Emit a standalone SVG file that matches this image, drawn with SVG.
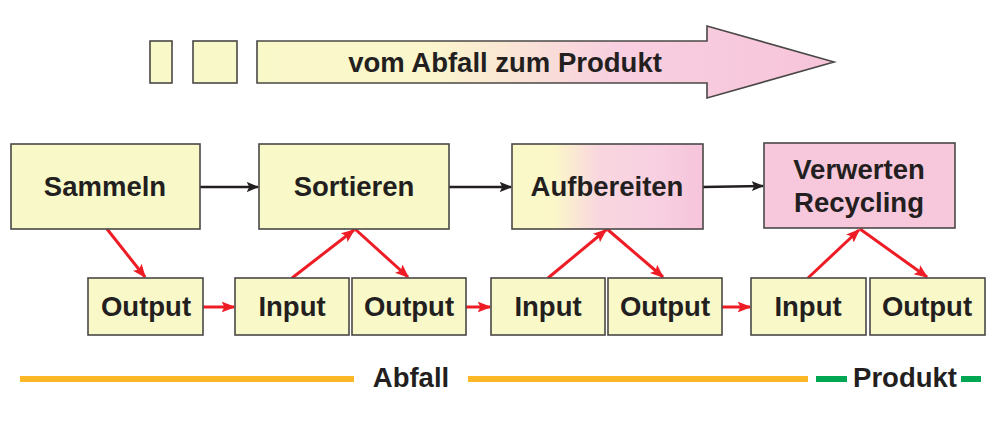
<svg xmlns="http://www.w3.org/2000/svg" width="1000" height="432" viewBox="0 0 1000 432">
<style>
.box{stroke:#4a4846;stroke-width:1.6}
.y{fill:#f9f8c9}
.p{fill:#f7c7db}
.t{font-family:"Liberation Sans",Arial,sans-serif;font-weight:bold;font-size:27.5px;fill:#231f20;text-anchor:middle}
.blk{stroke:#231f20;stroke-width:2.5;fill:none}
.red{stroke:#ee1c25;stroke-width:3;fill:none}
</style>
<defs>
<linearGradient id="gArrow" gradientUnits="userSpaceOnUse" x1="257" y1="0" x2="834" y2="0">
<stop offset="0" stop-color="#f9f8c9"/>
<stop offset="0.3" stop-color="#fbf6cc"/>
<stop offset="0.62" stop-color="#f8cfe0"/>
<stop offset="1" stop-color="#f7c4da"/>
</linearGradient>
<linearGradient id="gAuf" gradientUnits="userSpaceOnUse" x1="512" y1="0" x2="703" y2="0">
<stop offset="0" stop-color="#f9f8c9"/>
<stop offset="0.22" stop-color="#fbf7c9"/>
<stop offset="0.45" stop-color="#f9d7df"/>
<stop offset="0.75" stop-color="#f8d0e2"/>
<stop offset="1" stop-color="#f6c4da"/>
</linearGradient>
<marker id="ab" viewBox="0 0 10 10" refX="9" refY="5" markerWidth="5" markerHeight="5" orient="auto" markerUnits="strokeWidth">
<path d="M0,1 L10,5 L0,9 L2,5 z" fill="#231f20"/>
</marker>
<marker id="ar" viewBox="0 0 10 10" refX="9" refY="5" markerWidth="4.6" markerHeight="4.6" orient="auto" markerUnits="strokeWidth">
<path d="M0,1 L10,5 L0,9 L2,5 z" fill="#ee1c25"/>
</marker>
</defs>
<rect width="1000" height="432" fill="#ffffff"/>

<g id="header">
<rect class="box y" x="150" y="41" width="22" height="42"/>
<rect class="box y" x="193" y="41" width="44" height="42"/>
<path class="box" fill="url(#gArrow)" d="M257,41 H707 V26 L834,62 L707,98 V83 H257 Z"/>
<text class="t" x="505" y="72">vom Abfall zum Produkt</text>
</g>

<g id="connectors">
<line class="blk" x1="200" y1="187" x2="258" y2="187" marker-end="url(#ab)"/>
<line class="blk" x1="449" y1="187" x2="511" y2="187" marker-end="url(#ab)"/>
<line class="blk" x1="703" y1="187" x2="763" y2="186" marker-end="url(#ab)"/>
<line class="red" x1="107" y1="229" x2="145" y2="277" marker-end="url(#ar)"/>
<line class="red" x1="292" y1="278" x2="354" y2="230" marker-end="url(#ar)"/>
<line class="red" x1="355" y1="229" x2="408" y2="277" marker-end="url(#ar)"/>
<line class="red" x1="548" y1="278" x2="606" y2="230" marker-end="url(#ar)"/>
<line class="red" x1="607" y1="229" x2="663" y2="277" marker-end="url(#ar)"/>
<line class="red" x1="808" y1="278" x2="859" y2="230" marker-end="url(#ar)"/>
<line class="red" x1="860" y1="229" x2="927" y2="277" marker-end="url(#ar)"/>
<line class="red" x1="203" y1="307" x2="234" y2="307" marker-end="url(#ar)"/>
<line class="red" x1="466" y1="307" x2="490" y2="307" marker-end="url(#ar)"/>
<line class="red" x1="722" y1="307" x2="750" y2="307" marker-end="url(#ar)"/>
</g>

<g id="sammeln"><rect class="box y" x="11" y="144" width="189" height="85"/><text class="t" x="105" y="196">Sammeln</text></g>
<g id="sortieren"><rect class="box y" x="259" y="144" width="190" height="85"/><text class="t" x="354" y="196">Sortieren</text></g>
<g id="aufbereiten"><rect class="box" fill="url(#gAuf)" x="512" y="144" width="191" height="85"/><text class="t" x="607" y="196">Aufbereiten</text></g>
<g id="verwerten"><rect class="box p" x="764" y="143" width="191" height="85"/><text class="t" x="859" y="179">Verwerten</text><text class="t" x="859" y="212">Recycling</text></g>

<g id="output1"><rect class="box y" x="88" y="278" width="115" height="57"/><text class="t" x="146" y="316">Output</text></g>
<g id="input1"><rect class="box y" x="235" y="278" width="114" height="57"/><text class="t" x="292" y="316">Input</text></g>
<g id="output2"><rect class="box y" x="352" y="278" width="114" height="57"/><text class="t" x="409" y="316">Output</text></g>
<g id="input2"><rect class="box y" x="491" y="278" width="114" height="57"/><text class="t" x="548" y="316">Input</text></g>
<g id="output3"><rect class="box y" x="608" y="278" width="114" height="57"/><text class="t" x="665" y="316">Output</text></g>
<g id="input3"><rect class="box y" x="751" y="278" width="115" height="57"/><text class="t" x="808" y="316">Input</text></g>
<g id="output4"><rect class="box y" x="870" y="278" width="115" height="57"/><text class="t" x="927" y="316">Output</text></g>

<g id="legend">
<rect x="20" y="376" width="334" height="6" fill="#fbb726"/>
<text class="t" x="411" y="387">Abfall</text>
<rect x="468" y="376" width="340" height="6" fill="#fbb726"/>
<rect x="816" y="376" width="31" height="6" fill="#00a651"/>
<text class="t" x="905" y="387">Produkt</text>
<rect x="961" y="376" width="20" height="6" fill="#00a651"/>
</g>
</svg>
